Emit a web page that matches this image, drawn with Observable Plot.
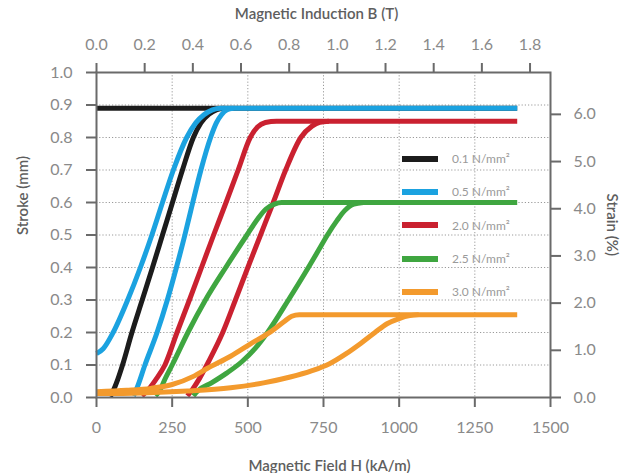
<!DOCTYPE html>
<html>
<head>
<meta charset="utf-8">
<script src="https://cdn.jsdelivr.net/npm/d3@7"></script>
<script src="https://cdn.jsdelivr.net/npm/@observablehq/plot@0.6"></script>
<style>
  html, body { margin: 0; padding: 0; background: #fff; }
  #wrap { position: relative; width: 631px; height: 473px; font-family: Lato, "Noto Sans", sans-serif; }
  #legend { position: absolute; left: 402px; top: 142px; }
  .row { display: flex; align-items: center; height: 33.3px; }
  .sw { width: 36px; height: 6px; }
  .lb { margin-left: 14px; font-size: 12px; color: #9a9a9a; }
</style>
</head>
<body>
<div id="wrap"></div>
<script>
// ---------------- data ----------------
const seriesNames  = ["0.1 N/mm²", "0.5 N/mm²", "2.0 N/mm²", "2.5 N/mm²", "3.0 N/mm²"];
const seriesColors = ["#1c1c1c", "#1ba2e0", "#ca2130", "#3fa640", "#f39a2d"];

const hTicks = [0, 250, 500, 750, 1000, 1250, 1500];
const strokeTicks = [0, 0.1, 0.2, 0.3, 0.4, 0.5, 0.6, 0.7, 0.8, 0.9, 1.0];
const bTicks = [0, 0.2, 0.4, 0.6, 0.8, 1.0, 1.2, 1.4, 1.6, 1.8];
const strainTicks = [0, 1, 2, 3, 4, 5, 6];
const mu0 = 4 * Math.PI * 1e-4;      // T per kA/m
const mmPerPercent = 0.1452;         // stroke (mm) per 1 % strain

// 0.1 N/mm²  [H kA/m, stroke mm]
const black_upper = [[0, 0.89], [1390, 0.89]];
const black_rise = [[46, 0.003], [56, 0.022], [70, 0.055], [86, 0.1], [117, 0.2], [151, 0.3], [185, 0.4], [218, 0.5],
  [251, 0.6], [284, 0.7], [320, 0.8], [345, 0.845], [372, 0.872], [398, 0.886], [422, 0.89]];
// 0.5 N/mm²
const blue_left = [[0, 0.135], [22, 0.15], [55, 0.2], [103, 0.3], [145, 0.4], [183, 0.5], [218, 0.6],
  [254, 0.7], [298, 0.8], [328, 0.845], [355, 0.87], [383, 0.885], [410, 0.89], [1390, 0.89]];
const blue_right = [[122, 0.005], [134, 0.03], [160, 0.1], [200, 0.2], [234, 0.3], [264, 0.4], [292, 0.5],
  [318, 0.6], [345, 0.7], [377, 0.8], [396, 0.845], [413, 0.87], [431, 0.885], [452, 0.89]];
// 2.0 N/mm²
const red_left = [[150, 0.005], [172, 0.025], [196, 0.055], [226, 0.1], [266, 0.2], [307, 0.3], [347, 0.4], [387, 0.5],
  [428, 0.6], [468, 0.7], [508, 0.8], [532, 0.832], [558, 0.846], [595, 0.85], [1390, 0.85]];
const red_right = [[300, 0.005], [317, 0.025], [340, 0.058], [370, 0.11], [417, 0.2], [459, 0.3], [500, 0.4], [542, 0.5],
  [584, 0.6], [625, 0.7], [675, 0.8], [712, 0.835], [738, 0.847], [768, 0.85]];
// 2.5 N/mm²
const green_left = [[195, 0.005], [208, 0.02], [228, 0.06], [250, 0.1], [302, 0.2], [360, 0.3], [427, 0.4], [497, 0.5],
  [533, 0.55], [560, 0.58], [588, 0.595], [612, 0.6], [1390, 0.6]];
const green_right = [[320, 0.005], [334, 0.02], [380, 0.045], [430, 0.075], [480, 0.11], [525, 0.152], [565, 0.2], [634, 0.3],
  [700, 0.4], [733, 0.452], [763, 0.5], [795, 0.545], [820, 0.575], [850, 0.595], [882, 0.6]];
// 3.0 N/mm²
const orange_left = [[0, 0.018], [100, 0.022], [180, 0.028], [250, 0.04], [320, 0.065], [367, 0.09], [443, 0.127], [509, 0.165],
  [575, 0.202], [618, 0.232], [645, 0.25], [670, 0.255], [1390, 0.255]];
const orange_right = [[0, 0.012], [150, 0.014], [300, 0.02], [443, 0.03], [552, 0.045], [640, 0.063], [710, 0.082], [770, 0.104],
  [825, 0.135], [875, 0.168], [920, 0.2], [960, 0.227], [1000, 0.243], [1035, 0.252], [1065, 0.255]];

const branches = [
  [0, "b_up", black_upper], [0, "b_rise", black_rise],
  [1, "bl_l", blue_left], [1, "bl_r", blue_right],
  [2, "r_l", red_left], [2, "r_r", red_right],
  [3, "g_l", green_left], [3, "g_r", green_right],
  [4, "o_l", orange_left], [4, "o_r", orange_right]
];
const rows = branches.flatMap(([si, id, pts]) => pts.map(([H, s]) => ({si, id, H, s})));

// ---------------- chart ----------------
const axisColor = "#6a6a6a";
const tickText = "#8a8a8a";
const titleColor = "#5e5e5e";

const lineMarks = seriesNames.map((n, i) =>
  Plot.line(rows.filter(d => d.si === i), {
    x: "H", y: "s", z: "id", stroke: seriesColors[i], strokeWidth: 5,
    curve: "monotone-x", strokeLinecap: "butt"
  }));

const plot = Plot.plot({
  width: 631, height: 473,
  marginLeft: 96, marginRight: 81, marginTop: 72, marginBottom: 76,
  style: {fontFamily: "Lato, 'Noto Sans', sans-serif", fontSize: "16px", background: "#fff"},
  x: {domain: [0, 1500], axis: null},
  y: {domain: [0, 1], axis: null},
  marks: [
    Plot.gridX(hTicks.slice(1, -1), {stroke: "#9a9a9a", strokeOpacity: 1, strokeDasharray: "1.2,2", strokeWidth: 1}),
    Plot.gridY(strokeTicks.slice(1, -1), {stroke: "#9a9a9a", strokeOpacity: 1, strokeDasharray: "1.2,2", strokeWidth: 1}),
    ...lineMarks,
    Plot.frame({stroke: axisColor, strokeWidth: 2}),
    Plot.axisY(strokeTicks, {anchor: "left", tickSize: 10, tickPadding: 14, tickFormat: d3.format(".1f"),
      stroke: axisColor, strokeWidth: 2, fill: tickText, fontSize: 16, label: null}),
    Plot.axisY(strainTicks.map(p => p * mmPerPercent), {anchor: "right", tickSize: 10, tickPadding: 13,
      tickFormat: d => (d / mmPerPercent).toFixed(1), stroke: axisColor, strokeWidth: 2, fill: tickText, fontSize: 16, label: null}),
    Plot.axisX(hTicks, {anchor: "bottom", tickSize: 10, tickPadding: 14, tickFormat: d => String(d),
      stroke: axisColor, strokeWidth: 2, fill: tickText, fontSize: 16, label: null}),
    Plot.axisX(bTicks.map(b => b / mu0), {anchor: "top", tickSize: 10, tickPadding: 13,
      tickFormat: d => (d * mu0).toFixed(1), stroke: axisColor, strokeWidth: 2, fill: tickText, fontSize: 16, label: null}),
    Plot.text(["Magnetic Field H (kA/m)"], {frameAnchor: "bottom", dy: 73, dx: 6, text: d => d,
      fill: titleColor, fontWeight: 600, fontSize: 15}),
    Plot.text(["Magnetic Induction B (T)"], {frameAnchor: "top", dy: -64, dx: -7, text: d => d,
      fill: titleColor, fontWeight: 600, fontSize: 15}),
    Plot.text(["Stroke (mm)"], {frameAnchor: "left", dx: -73, rotate: -90, text: d => d,
      fill: titleColor, fontWeight: 600, fontSize: 15}),
    Plot.text(["Strain (%)"], {frameAnchor: "right", dx: 61, dy: 21, rotate: 90, text: d => d,
      fill: titleColor, fontWeight: 600, fontSize: 15})
  ]
});

const wrap = document.getElementById("wrap");
wrap.appendChild(plot);

// legend
const legend = document.createElement("div");
legend.id = "legend";
seriesNames.forEach((n, i) => {
  const row = document.createElement("div");
  row.className = "row";
  const sw = document.createElement("div");
  sw.className = "sw";
  sw.style.background = seriesColors[i];
  const lb = document.createElement("div");
  lb.className = "lb";
  lb.textContent = n;
  row.appendChild(sw);
  row.appendChild(lb);
  legend.appendChild(row);
});
wrap.appendChild(legend);
</script>
</body>
</html>
